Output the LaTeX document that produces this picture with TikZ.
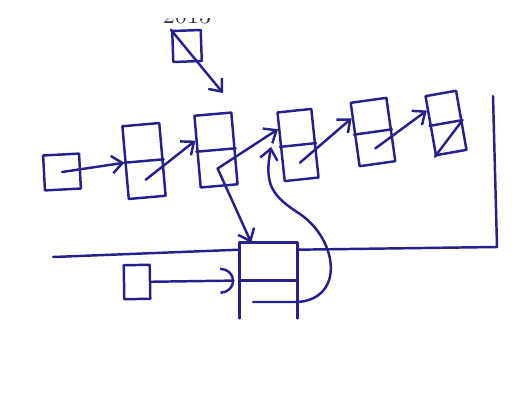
\documentclass[tikz,border=0pt]{standalone}
\usetikzlibrary{arrows.meta,calc}
\definecolor{ink}{RGB}{38,32,140}
\begin{document}
\begin{tikzpicture}[x=0.02cm,y=-0.02cm,
  pen/.style={draw=ink,line width=1.4pt,line cap=round,line join=round},
  cell/.style={pen,rectangle,inner sep=0pt},
  link/.style={pen,-{Straight Barb[length=6pt,width=10pt,line width=1.4pt]}}]
\useasboundingbox (0,0) rectangle (516,403);

% label above the pointer, cut by the page edge
\begin{scope}
\clip (150,18) rectangle (230,30);
\node[anchor=base,font=\fontsize{14}{16}\selectfont,text=black!80] (lbl) at (187,23) {2013};
\end{scope}

\node[cell,minimum width=0.57cm,minimum height=0.62cm,rotate=2] (cur) at (187,46) {};
\node[cell,minimum width=0.72cm,minimum height=0.70cm,rotate=3] (head) at (62,172) {};
\node[cell,minimum width=0.52cm,minimum height=0.68cm,rotate=1] (aux) at (137,282) {};

\node[cell,minimum width=0.74cm,minimum height=1.46cm,rotate=5] (c1) at (144,161) {};
\node[cell,minimum width=0.74cm,minimum height=1.44cm,rotate=5] (c2) at (216,150) {};
\node[cell,minimum width=0.68cm,minimum height=1.38cm,rotate=6] (c3) at (298,145) {};
\node[cell,minimum width=0.72cm,minimum height=1.28cm,rotate=8] (c4) at (373,132) {};
\node[cell,minimum width=0.62cm,minimum height=1.20cm,rotate=10] (c5) at (446,123) {};

\foreach \c in {c1,c2,c3,c4,c5}
  \draw[pen] (\c.west) -- (\c.east);
\draw[pen] (c5.south west) -- (c5.east);

% open box at the bottom
\node[inner sep=0pt,minimum width=1.14cm,minimum height=1.50cm] (bot) at (268.5,280.5) {};
\draw[pen] (bot.south west) -- (bot.north west) -- (bot.north east) -- (bot.south east);
\draw[pen] (bot.west) -- (bot.east);

\coordinate (curtip) at (223,93);
\coordinate (leftend) at (53,257);
\coordinate (frametop) at (493,96);
\coordinate (loopstart) at (253,302);

\draw[link] (cur.north west) -- (curtip);
\draw[link] (head.center) -- (c1.west);
\draw[link] ($(c1.center)!0.5!(c1.south)$) -- ($(c2.west)!0.3!(c2.north west)$);
\draw[link] ($(c2.center)!0.5!(c2.south)$) -- ($(c3.west)!0.5!(c3.north west)$);
\draw[link] ($(c3.center)!0.5!(c3.south)$) -- ($(c4.west)!0.5!(c4.north west)$);
\draw[link] ($(c4.center)!0.5!(c4.south)$) -- ($(c5.west)!0.5!(c5.north west)$);
\draw[link] ($(c2.center)!0.5!(c2.south)$) -- ($(bot.north west)!0.2!(bot.north east)$);

\draw[pen] (leftend) -- ([yshift=-4pt]bot.north west);
\draw[pen] (frametop) -- (497,247) -- ([yshift=-4pt]bot.north east);

\draw[pen,-{Arc Barb[length=8pt,width=15pt,line width=1.4pt]},shorten >=3pt] (aux.east) -- (bot.west);
\draw[link] (loopstart) -- (loopstart -| bot.east)
  .. controls (345,299) and (338,240) .. (300,214)
  .. controls (272,196) and (264,185) .. ([xshift=-5pt]c3.west);

\end{tikzpicture}
\end{document}
